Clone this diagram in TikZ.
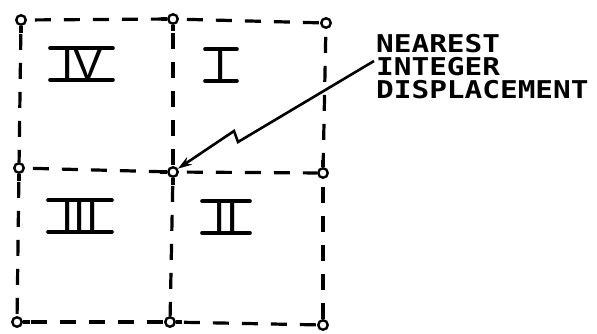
\documentclass[tikz,border=0pt]{standalone}
\usepackage{fontspec}
\setmainfont{Liberation Sans}
\newfontfamily\lblfont{DejaVu Sans Mono}[FakeStretch=1.2]
\usetikzlibrary{arrows.meta}
\begin{document}
\begin{tikzpicture}[x=1pt,y=-1pt,
  gpt/.style={circle,draw,line width=2.4pt,inner sep=0pt,minimum size=9.5pt},
  gridline/.style={line width=3.2pt,dash pattern=on 16pt off 13pt,dash phase=21pt},
  stub/.style={line width=3.2pt},
  numeral/.style={font=\fontsize{44}{44}\selectfont,inner sep=0pt,text height=31.5pt,text depth=0pt},
  bar/.style={line width=3.6pt,line cap=round},
  lbl/.style={font=\lblfont\bfseries\fontsize{24.5}{22}\selectfont,inner sep=0pt,anchor=base west},
  leader/.style={line width=2.6pt,-{Stealth[length=14pt,width=9pt]}}]
\useasboundingbox (0,0) rectangle (597,333);
% grid points
\node[gpt] (TL) at (21,20) {};
\node[gpt] (TM) at (173,19) {};
\node[gpt] (TR) at (326,23) {};
\node[gpt] (ML) at (19,168) {};
\node[gpt] (MM) at (173,172) {};
\node[gpt] (MR) at (323,173) {};
\node[gpt] (BL) at (17,322) {};
\node[gpt] (BM) at (170,322) {};
\node[gpt] (BR) at (323,325) {};
% dashed grid
\draw[gridline] (TL) -- (TM);
\draw[gridline] (TM) -- (TR);
\draw[gridline] (ML) -- (MM);
\draw[gridline] (MM) -- (MR);
\draw[gridline] (BL) -- (BM);
\draw[gridline] (BM) -- (BR);
\draw[gridline] (TL) -- (ML);
\draw[gridline] (ML) -- (BL);
\draw[gridline] (TM) -- (MM);
\draw[gridline] (MM) -- (BM);
\draw[gridline] (TR) -- (MR);
\draw[gridline] (MR) -- (BR);
% stubs at the grid points
\draw[stub] (TL.south) -- ++(0,7);
\draw[stub] (TM.south) -- ++(0,6);
\draw[stub] (TM.west) -- ++(-6,0);
\draw[stub] (ML.south) -- ++(0,7);
\draw[stub] (MM.west) -- ++(-7,0);
\draw[stub] (MM.south) -- ++(0,7);
\draw[stub] (MR.north) -- ++(0,-7);
\draw[stub] (BL.east) -- ++(7,0);
\draw[stub] (BM.east) -- ++(6,0);
\draw[stub] (BR.north) -- ++(0,-6);
% quadrant numerals
\node[numeral] (q4) at (82,64) {IV};
\node[numeral] (q1) at (221,65) {I};
\node[numeral] (q3) at (80,216) {III};
\node[numeral] (q2) at (226,217) {II};
\draw[bar] ([xshift=-32pt]q4.north) -- ([xshift=31pt]q4.north);
\draw[bar] ([xshift=-32pt]q4.south) -- ([xshift=31pt]q4.south);
\draw[bar] ([xshift=-16pt]q1.north) -- ([xshift=16pt]q1.north);
\draw[bar] ([xshift=-16pt]q1.south) -- ([xshift=16pt]q1.south);
\draw[bar] ([xshift=-32pt]q3.north) -- ([xshift=32pt]q3.north);
\draw[bar] ([xshift=-32pt]q3.south) -- ([xshift=32pt]q3.south);
\draw[bar] ([xshift=-24pt]q2.north) -- ([xshift=24pt]q2.north);
\draw[bar] ([xshift=-24pt]q2.south) -- ([xshift=24pt]q2.south);
% label
\node[lbl] (t1) at (376,52) {NEAREST};
\node[lbl] (t2) at (376,75) {INTEGER};
\node[lbl] (t3) at (376,98) {DISPLACEMENT};
% leader
\coordinate (lead) at (374,61);
\coordinate (zA) at (238,142);
\coordinate (zB) at (234,131);
\draw[leader] (lead) -- (zA) -- (zB) -- (MM);
\end{tikzpicture}
\end{document}
